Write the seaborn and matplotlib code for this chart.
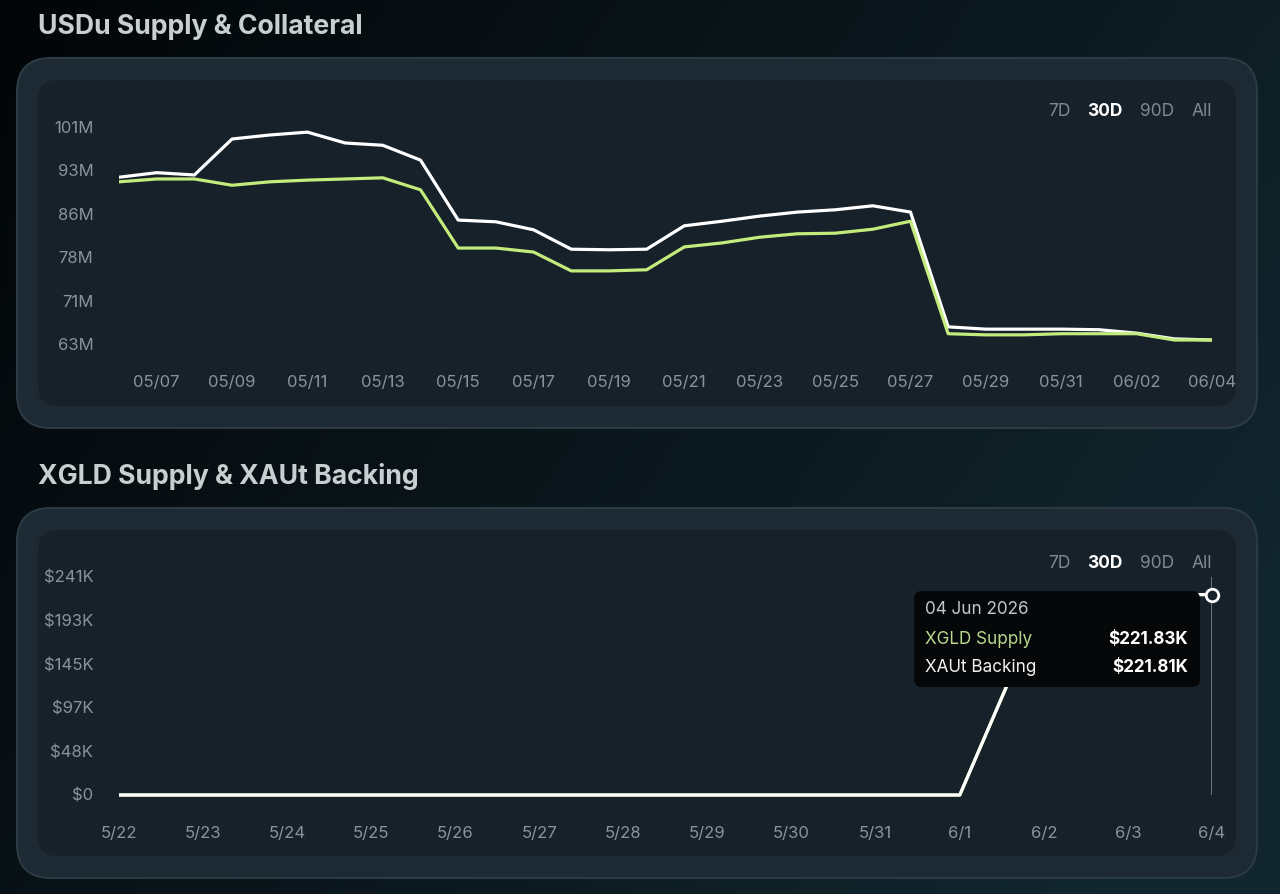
import numpy as np
import pandas as pd
import matplotlib
matplotlib.use("Agg")
import matplotlib.pyplot as plt
from matplotlib.patches import FancyBboxPatch
import seaborn as sns

# ---- data ----
usdu_dates = pd.date_range("2026-05-06", "2026-06-04", freq="D")
usdu_collateral = [92.2, 93.0, 92.6, 98.9, 99.6, 100.1, 98.2, 97.8, 95.2, 84.7,
                   84.4, 83.0, 79.6, 79.5, 79.6, 83.7, 84.5, 85.4, 86.1, 86.5,
                   87.2, 86.1, 66.0, 65.6, 65.6, 65.6, 65.5, 64.9, 63.9, 63.7]
usdu_supply = [91.4, 91.9, 91.9, 90.8, 91.4, 91.7, 91.9, 92.1, 90.0, 79.8,
               79.8, 79.1, 75.8, 75.8, 76.0, 80.0, 80.7, 81.7, 82.3, 82.4,
               83.1, 84.5, 64.8, 64.6, 64.6, 64.8, 64.8, 64.8, 63.7, 63.7]
usdu_yticks = [63.0, 70.6, 78.2, 85.8, 93.4, 101.0]

xgld_dates = pd.date_range("2026-05-22", "2026-06-04", freq="D")
xgld_supply = [0, 0, 0, 0, 0, 0, 0, 0, 0, 0, 0, 216.0, 221.6, 221.83]
xaut_backing = [0, 0, 0, 0, 0, 0, 0, 0, 0, 0, 0, 216.0, 221.6, 221.81]
xgld_yticks = [0, 48.25, 96.5, 144.75, 193.0, 241.25]

periods = ["7D", "30D", "90D", "All"]

GREEN = "#c3ec7c"
WHITE = "#ffffff"
TICK = "#8b9398"

sns.set_theme(style="dark")
plt.rcParams["font.family"] = ["Inter", "DejaVu Sans"]

W, H = 1280, 894
fig = plt.figure(figsize=(W / 100, H / 100), dpi=100)

# background in pixel coordinates
bg = fig.add_axes([0, 0, 1, 1])
bg.set_xlim(0, W)
bg.set_ylim(H, 0)
bg.axis("off")
grad = np.linspace(0, 1, 256)
gx, gy = np.meshgrid(grad, np.linspace(0, 1, 128))
mix = np.clip(0.75 * gx + 0.35 * gy, 0, 1)
c0 = np.array([0.01, 0.02, 0.03])
c1 = np.array([0.07, 0.15, 0.18])
img = c0 + (c1 - c0) * mix[..., None]
bg.imshow(img, extent=[0, W, H, 0], aspect="auto", zorder=0)


def panel(y0):
    outer = FancyBboxPatch((17, y0), 1240, 370, boxstyle="round,pad=0,rounding_size=34",
                           fc="#1d2a33", ec="#2b3b45", lw=1.5, zorder=1)
    inner = FancyBboxPatch((38, y0 + 22), 1198, 326, boxstyle="round,pad=0,rounding_size=20",
                           fc="#16212a", ec="none", zorder=2)
    bg.add_patch(outer)
    bg.add_patch(inner)


panel(58)
panel(508)

bg.text(38, 27, "USDu Supply & Collateral", color="#c9ced1", fontsize=19.2,
        fontweight="bold", va="center", ha="left", zorder=3)
bg.text(38, 477, "XGLD Supply & XAUt Backing", color="#c9ced1", fontsize=19.2,
        fontweight="bold", va="center", ha="left", zorder=3)

for ypos in (112, 563):
    for label, xpos in zip(periods, [1059, 1105, 1157, 1202]):
        active = label == "30D"
        bg.text(xpos, ypos, label, color="#ffffff" if active else "#80898e",
                fontsize=12.5, fontweight="bold" if active else "normal",
                ha="center", va="center", zorder=3)


def px_axes(x0, x1, y0, y1):
    return fig.add_axes([x0 / W, 1 - y1 / H, (x1 - x0) / W, (y1 - y0) / H])


def style(ax):
    ax.set_facecolor("none")
    for s in ax.spines.values():
        s.set_visible(False)
    ax.grid(False)
    ax.tick_params(axis="both", length=0, colors=TICK, labelsize=12)
    ax.tick_params(axis="x", pad=11)
    ax.tick_params(axis="y", pad=18.5)
    ax.set_xlabel("")
    ax.set_ylabel("")


# ---- top chart ----
ax1 = px_axes(119, 1212, 100, 360)
top = pd.DataFrame({
    "date": list(usdu_dates) * 2,
    "value": usdu_collateral + usdu_supply,
    "series": ["Collateral"] * len(usdu_dates) + ["Supply"] * len(usdu_dates),
})
sns.lineplot(data=top, x="date", y="value", hue="series",
             palette={"Collateral": WHITE, "Supply": GREEN},
             hue_order=["Collateral", "Supply"], linewidth=2.3, legend=False, ax=ax1)
mpp = 7.6 / 43.4
ax1.set_ylim(63 - 16 * mpp, 63 + 244 * mpp)
ax1.set_xlim(usdu_dates[0], usdu_dates[-1])
ax1.set_yticks(usdu_yticks)
ax1.set_yticklabels([f"{int(v + 0.5)}M" for v in usdu_yticks])
xt = usdu_dates[1::2]
ax1.set_xticks(xt)
ax1.set_xticklabels([d.strftime("%m/%d") for d in xt])
style(ax1)

# ---- bottom chart ----
ax2 = px_axes(119, 1212, 570, 811)
bot = pd.DataFrame({
    "date": list(xgld_dates) * 2,
    "value": xgld_supply + xaut_backing,
    "series": ["XGLD Supply"] * len(xgld_dates) + ["XAUt Backing"] * len(xgld_dates),
})
sns.lineplot(data=bot, x="date", y="value", hue="series",
             palette={"XGLD Supply": GREEN, "XAUt Backing": WHITE},
             hue_order=["XGLD Supply", "XAUt Backing"], linewidth=2.3, legend=False, ax=ax2)
kpp = 48.25 / 43.6
ax2.set_ylim(-16 * kpp, 225 * kpp)
ax2.set_xlim(xgld_dates[0], xgld_dates[-1])
ax2.set_yticks(xgld_yticks)
ax2.set_yticklabels(["$0"] + [f"${int(v + 0.5)}K" for v in xgld_yticks[1:]])
ax2.set_xticks(xgld_dates)
ax2.set_xticklabels([f"{d.month}/{d.day}" for d in xgld_dates])
style(ax2)

# hover cursor and marker
ax2.vlines(xgld_dates[-1], 0, xgld_yticks[-1], color="#7a8489", lw=1.2, zorder=1)
ax2.plot([xgld_dates[-1]], [xaut_backing[-1]], marker="o", ms=9, mfc="#16212a",
         mec=WHITE, mew=2, clip_on=False, zorder=5)

# tooltip
over = fig.add_axes([0, 0, 1, 1])
over.set_zorder(10)
over.set_xlim(0, W)
over.set_ylim(H, 0)
over.axis("off")
tip = FancyBboxPatch((914, 591), 286, 96, boxstyle="round,pad=0,rounding_size=8",
                     fc="#050708", ec="none", zorder=6)
over.add_patch(tip)
over.text(925, 609, "04 Jun 2026", color="#c3c7c9", fontsize=12.3, va="center", zorder=7)
over.text(925, 639, "XGLD Supply", color="#b9d98f", fontsize=12.3, va="center", zorder=7)
over.text(1188, 639, f"${xgld_supply[-1]:.2f}K", color=WHITE, fontsize=12.3,
          fontweight="bold", va="center", ha="right", zorder=7)
over.text(925, 668, "XAUt Backing", color="#f2f2f2", fontsize=12.3, va="center", zorder=7)
over.text(1188, 668, f"${xaut_backing[-1]:.2f}K", color=WHITE, fontsize=12.3,
          fontweight="bold", va="center", ha="right", zorder=7)

fig.savefig("out.png", dpi=100)
